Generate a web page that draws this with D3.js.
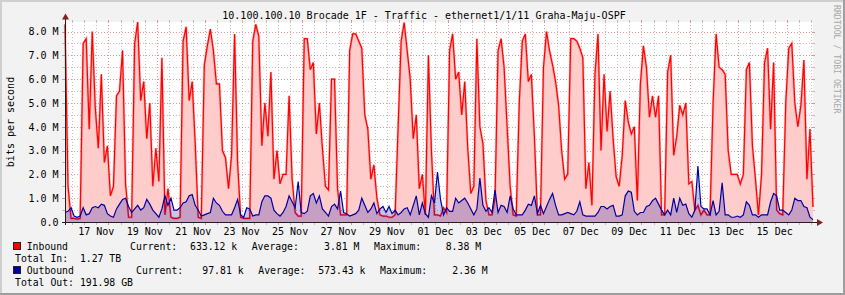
<!DOCTYPE html>
<html>
<head>
<meta charset="utf-8">
<script src="https://cdn.jsdelivr.net/npm/d3@7"></script>
<style>
  body { margin: 0; background: #f2f2f2; }
  svg text { font-family: "DejaVu Sans Mono", monospace; }
</style>
</head>
<body>
<script>
var title = "10.100.100.10 Brocade 1F - Traffic - ethernet1/1/11 Graha-Maju-OSPF";
var startTime = "16 Nov 05:00";
var stepHours = 3;

// bits per second, in millions, one value every 3 hours
var inbound = [
  8.3, 1.5, 0.15, 0.15, 0.12, 0.15, 7.5, 7.7, 3.9, 8.0,
  4.8, 3.1, 6.2, 2.5, 3.2, 1.1, 1.5, 5.3, 5.5, 7.2,
  1.6, 0.2, 0.2, 7.5, 8.4, 5.1, 5.9, 3.5, 5.0, 1.5,
  3.1, 1.7, 6.9, 0.3, 1.4, 0.2, 0.15, 0.15, 0.2, 7.6,
  8.2, 5.1, 5.9, 3.3, 0.2, 0.15, 6.6, 7.4, 8.1,
  7.2, 5.8, 5.8, 3.0, 2.7, 1.4, 2.8, 7.9, 2.5, 0.2,
  0.15, 0.15, 0.15, 7.6, 8.3, 7.8, 3.2, 5.0, 3.6, 6.3,
  1.8, 3.0, 1.6, 2.0, 2.0, 5.3, 1.8, 0.4, 0.25, 0.25,
  7.7, 7.7, 6.4, 6.7, 3.7, 5.0, 3.1, 1.5, 1.35, 6.0,
  6.0, 1.4, 0.3, 0.3, 0.3, 7.2, 7.9, 7.9, 7.6,
  7.3, 4.5, 3.9, 1.8, 2.4, 1.0, 0.3, 0.25, 0.25, 0.2,
  0.2, 0.3, 4.0, 7.6, 8.38, 7.2, 6.0, 3.5, 4.5, 1.4,
  2.0, 0.3, 7.0, 3.0, 0.3, 0.3, 0.25, 0.6, 0.4, 7.2,
  7.9, 6.0, 6.3, 4.5, 5.9, 3.1, 1.2, 1.5, 7.7, 4.0,
  3.3, 0.9, 0.3, 0.3, 1.0, 7.2, 7.7, 6.5, 4.0,
  1.5, 0.3, 0.25, 5.0, 7.6, 7.9, 5.9, 6.2, 3.6, 0.3,
  0.3, 6.5, 8.0, 7.2, 6.6, 5.9, 4.9, 3.0, 1.8, 2.0,
  7.7, 7.7, 7.6, 7.3, 6.9, 1.4, 2.5, 0.7, 6.2, 7.9,
  3.0, 6.2, 3.8, 5.5, 3.5, 1.9, 1.5, 2.8, 5.1, 4.2,
  3.7, 4.0, 0.9, 5.8, 7.4, 6.5, 4.4, 5.3, 4.4, 5.3,
  0.3, 0.3, 6.3, 7.0, 2.8, 3.6, 4.9, 4.5, 5.0, 1.6,
  1.7, 0.5, 0.7, 0.3, 0.5, 0.3, 0.3, 5.0, 7.9, 6.5,
  6.4, 6.2, 3.0, 2.0, 2.0, 2.0, 1.6, 2.0, 6.4, 6.7,
  3.2, 1.8, 0.3, 2.0, 6.7, 7.3, 3.9, 6.7, 0.5, 0.35,
  0.3, 5.0, 7.3, 7.5, 5.0, 4.0, 4.9, 6.8, 1.8, 3.9,
  0.63
];

var outbound = [
  0.4, 0.45, 0.6, 0.25, 0.2, 0.25, 0.6, 0.3, 0.35, 0.6,
  0.65, 0.6, 0.75, 0.7, 0.35, 0.25, 0.2, 0.55, 0.75, 0.95,
  1.0, 0.65, 0.4, 0.55, 0.7, 0.5, 0.6, 0.95, 0.75, 0.5,
  0.35, 0.2, 0.55, 1.1, 0.7, 1.0, 0.5, 0.5, 0.6, 0.8,
  0.85, 1.1, 1.15, 0.7, 0.5, 0.25, 0.3, 0.35, 0.4,
  1.0, 0.8, 0.7, 0.45, 0.3, 0.3, 0.3, 0.6, 0.95, 0.3,
  0.2, 0.6, 0.55, 0.25, 0.3, 0.3, 0.85, 1.1, 1.1, 1.0,
  0.5, 0.35, 0.25, 0.4, 0.65, 1.1, 0.85, 0.6, 1.7, 0.4,
  0.35, 0.45, 1.1, 1.2, 0.8, 1.1, 0.55, 0.4, 0.25, 0.65,
  0.75, 0.55, 1.3, 0.4, 0.35, 0.25, 0.3, 0.35, 0.5,
  1.0, 0.7, 0.4, 0.55, 0.8, 0.35, 0.55, 0.65, 0.4, 0.65,
  0.35, 0.5, 0.3, 0.4, 0.55, 0.6, 0.3, 0.7, 1.1, 0.3,
  0.8, 0.35, 0.2, 1.1, 0.8, 2.1, 0.95, 0.3, 0.6, 0.45,
  0.45, 1.0, 0.8, 0.9, 1.0, 0.8, 0.55, 0.3, 0.55, 1.85,
  0.7, 0.45, 0.6, 0.4, 1.35, 0.4, 0.7, 0.65, 0.4,
  1.1, 0.55, 0.3, 0.3, 0.3, 0.5, 0.75, 0.7, 1.1, 0.35,
  0.7, 0.35, 0.65, 0.95, 1.2, 0.7, 0.3, 0.3, 0.35, 0.4,
  0.35, 0.3, 0.45, 0.85, 0.3, 0.25, 0.25, 0.25, 0.25, 0.4,
  0.65, 0.65, 0.55, 0.65, 0.7, 0.25, 0.25, 0.3, 1.1, 1.3,
  1.25, 0.45, 0.3, 0.4, 0.4, 0.65, 0.7, 0.9, 1.0, 0.75,
  0.5, 0.3, 0.5, 0.3, 1.0, 0.4, 1.0, 0.7, 0.75, 0.35,
  0.2, 0.5, 2.35, 0.65, 0.55, 0.55, 0.3, 0.9, 0.3, 0.45,
  1.65, 0.3, 0.3, 0.2, 0.2, 0.25, 0.2, 0.3, 0.85, 0.7,
  0.3, 0.3, 0.2, 0.3, 0.3, 0.3, 0.85, 1.2, 1.1, 0.5,
  0.5, 0.4, 0.3, 0.5, 1.0, 0.9, 0.9, 0.65, 0.6, 0.2,
  0.1
];

var xTickLabels = ["17 Nov", "19 Nov", "21 Nov", "23 Nov", "25 Nov", "27 Nov", "29 Nov",
  "01 Dec", "03 Dec", "05 Dec", "07 Dec", "09 Dec", "11 Dec", "13 Dec", "15 Dec"];
var yTicks = [0, 1, 2, 3, 4, 5, 6, 7, 8];
var yTickLabels = ["0.0", "1.0 M", "2.0 M", "3.0 M", "4.0 M", "5.0 M", "6.0 M", "7.0 M", "8.0 M"];
var legendIn = ["Inbound", "Current:", "633.12 k", "Average:", "3.81 M", "Maximum:", "8.38 M"];
var legendOut = ["Outbound", "Current:", "97.81 k", "Average:", "573.43 k", "Maximum:", "2.36 M"];
var totals = ["Total In:  1.27 TB", "Total Out: 191.98 GB"];

// d3 core has no .attrs, add a tiny helper
d3.selection.prototype.attrs = function(o) {
  for (var k in o) this.attr(k, o[k]);
  return this;
};

var W = 845, H = 295;
var plotLeft = 65, plotRight = 813, plotTop = 22, plotBottom = 222;

var svg = d3.select("body").append("svg")
  .attr("width", W)
  .attr("height", H)
  .style("display", "block");

// background and 3d frame
svg.append("rect").attr("width", W).attr("height", H).attr("fill", "#f2f2f2");
svg.append("path").attr("d", "M0,0H" + W + "V2H2V" + H + "H0Z").attr("fill", "#cfcfcf");
svg.append("path").attr("d", "M" + W + "," + H + "H0V" + (H - 2) + "H" + (W - 2) + "V0H" + W + "Z").attr("fill", "#9e9e9e");
svg.append("rect").attrs({ x: plotLeft, y: plotTop, width: plotRight - plotLeft, height: plotBottom - plotTop })
  .attr("fill", "#fff");

var parse = d3.utcParse("%d %b %H:%M");
var t0 = parse(startTime);
var times = inbound.map((d, i) => d3.utcHour.offset(t0, i * stepHours));
var tEnd = times[times.length - 1];

var x = d3.scaleUtc().domain([t0, tEnd]).range([plotLeft, plotRight]);
var y = d3.scaleLinear().domain([0, 8.4]).range([plotBottom, plotTop]);

var labelTimes = xTickLabels.map(s => parse(s + " 12:00"));
var majorX = labelTimes.map(t => d3.utcHour.offset(t, 12)).filter(t => t <= tEnd);
var majorKeys = majorX.map(t => +t);
var minorX = d3.utcHour.every(12).range(t0, tEnd).filter(t => majorKeys.indexOf(+t) < 0);
var minorY = d3.range(0.5, 8.4, 1);
var majorY = yTicks.filter(v => v > 0);

var minorCol = "rgba(180,140,140,0.6)";
var majorCol = "rgba(222,80,80,0.6)";

var grid = svg.append("g").attr("shape-rendering", "crispEdges");

function vLines(list, col) {
  list.forEach(function(t) {
    var px = Math.round(x(t)) + 0.5;
    grid.append("line").attrs({ x1: px, x2: px, y1: plotTop, y2: plotBottom })
      .attr("stroke", col).attr("stroke-dasharray", "1,2");
    grid.append("line").attrs({ x1: px, x2: px, y1: plotBottom, y2: plotBottom + 3 }).attr("stroke", col);
    grid.append("line").attrs({ x1: px, x2: px, y1: plotTop - 2, y2: plotTop }).attr("stroke", col);
  });
}
function hLines(list, col) {
  list.forEach(function(v) {
    var py = Math.round(y(v)) + 0.5;
    grid.append("line").attrs({ x1: plotLeft, x2: plotRight, y1: py, y2: py })
      .attr("stroke", col).attr("stroke-dasharray", "1,2");
    grid.append("line").attrs({ x1: plotLeft - 3, x2: plotLeft, y1: py, y2: py }).attr("stroke", col);
    grid.append("line").attrs({ x1: plotRight, x2: plotRight + 2, y1: py, y2: py }).attr("stroke", col);
  });
}
vLines(minorX, minorCol);
hLines(minorY, minorCol);
vLines(majorX, majorCol);
hLines(majorY, majorCol);

var areaGen = d3.area().x((d, i) => x(times[i])).y0(y(0)).y1(d => y(d));
var lineGen = d3.line().x((d, i) => x(times[i])).y(d => y(d));

svg.append("path").datum(inbound).attr("d", areaGen).attr("fill", "#ffcccc");
// soft halo then the red line itself
svg.append("path").datum(inbound).attr("d", lineGen)
  .attr("fill", "none").attr("stroke", "rgba(255,60,60,0.35)").attr("stroke-width", 2.4);
svg.append("path").datum(inbound).attr("d", lineGen)
  .attr("fill", "none").attr("stroke", "#ff0000").attr("stroke-width", 1.2);
svg.append("path").datum(outbound).attr("d", areaGen).attr("fill", "rgba(0,0,160,0.22)");
svg.append("path").datum(outbound).attr("d", lineGen)
  .attr("fill", "none").attr("stroke", "#0000a0").attr("stroke-width", 1.2);

// axes and arrows
var ax = svg.append("g").attr("shape-rendering", "crispEdges");
ax.append("line").attrs({ x1: plotLeft + 0.5, x2: plotLeft + 0.5, y1: plotBottom + 3, y2: 17 }).attr("stroke", "#1f1f1f");
ax.append("line").attrs({ x1: plotLeft - 3, x2: 818, y1: plotBottom + 0.5, y2: plotBottom + 0.5 }).attr("stroke", "#1f1f1f");
svg.append("path").attr("d", "M62,19.5L69,19.5L65.5,13.5Z").attr("fill", "#7f1f1f");
svg.append("path").attr("d", "M817,219L817,226L823,222.5Z").attr("fill", "#7f1f1f");

// tick labels
svg.selectAll("text.ylab").data(yTicks).enter().append("text")
  .attr("class", "ylab")
  .attr("x", 58.5)
  .attr("y", d => y(d) + 3.8)
  .attr("text-anchor", "end")
  .attr("font-size", 10)
  .text((d, i) => yTickLabels[i]);

svg.selectAll("text.xlab").data(labelTimes).enter().append("text")
  .attr("class", "xlab")
  .attr("x", d => x(d))
  .attr("y", 235)
  .attr("text-anchor", "middle")
  .attr("font-size", 10)
  .text((d, i) => xTickLabels[i]);

svg.append("text")
  .attr("x", 424)
  .attr("y", 19)
  .attr("text-anchor", "middle")
  .attr("font-size", 10)
  .text(title);

svg.append("text")
  .attr("transform", "translate(14," + (plotTop + plotBottom) / 2 + ") rotate(-90)")
  .attr("text-anchor", "middle")
  .attr("font-size", 10)
  .text("bits per second");

svg.append("text")
  .attr("transform", "translate(834,5) rotate(90)")
  .attr("font-size", 8.2)
  .attr("fill", "#a8a8a8")
  .text("RRDTOOL / TOBI OETIKER");

// legend
var inX = [26.7, 130, 190, 251.7, 324, 374, 445.7];
var outX = [26.7, 136, 202.3, 258.3, 318.3, 380, 452.3];
function legendRow(items, xs, baseline, col) {
  svg.append("rect").attrs({ x: 13.5, y: baseline - 7.5, width: 7, height: 7 })
    .attr("fill", col).attr("stroke", "#222").attr("shape-rendering", "crispEdges");
  items.forEach(function(s, i) {
    svg.append("text").attr("x", xs[i]).attr("y", baseline)
      .attr("font-size", 9.8).style("white-space", "pre").text(s);
  });
}
legendRow(legendIn, inX, 250, "#ff0000");
legendRow(legendOut, outX, 274, "#0000a0");
totals.forEach(function(s, i) {
  svg.append("text").attr("x", 15).attr("y", 262 + i * 24)
    .attr("font-size", 9.8).style("white-space", "pre").text(s);
});
</script>
</body>
</html>
